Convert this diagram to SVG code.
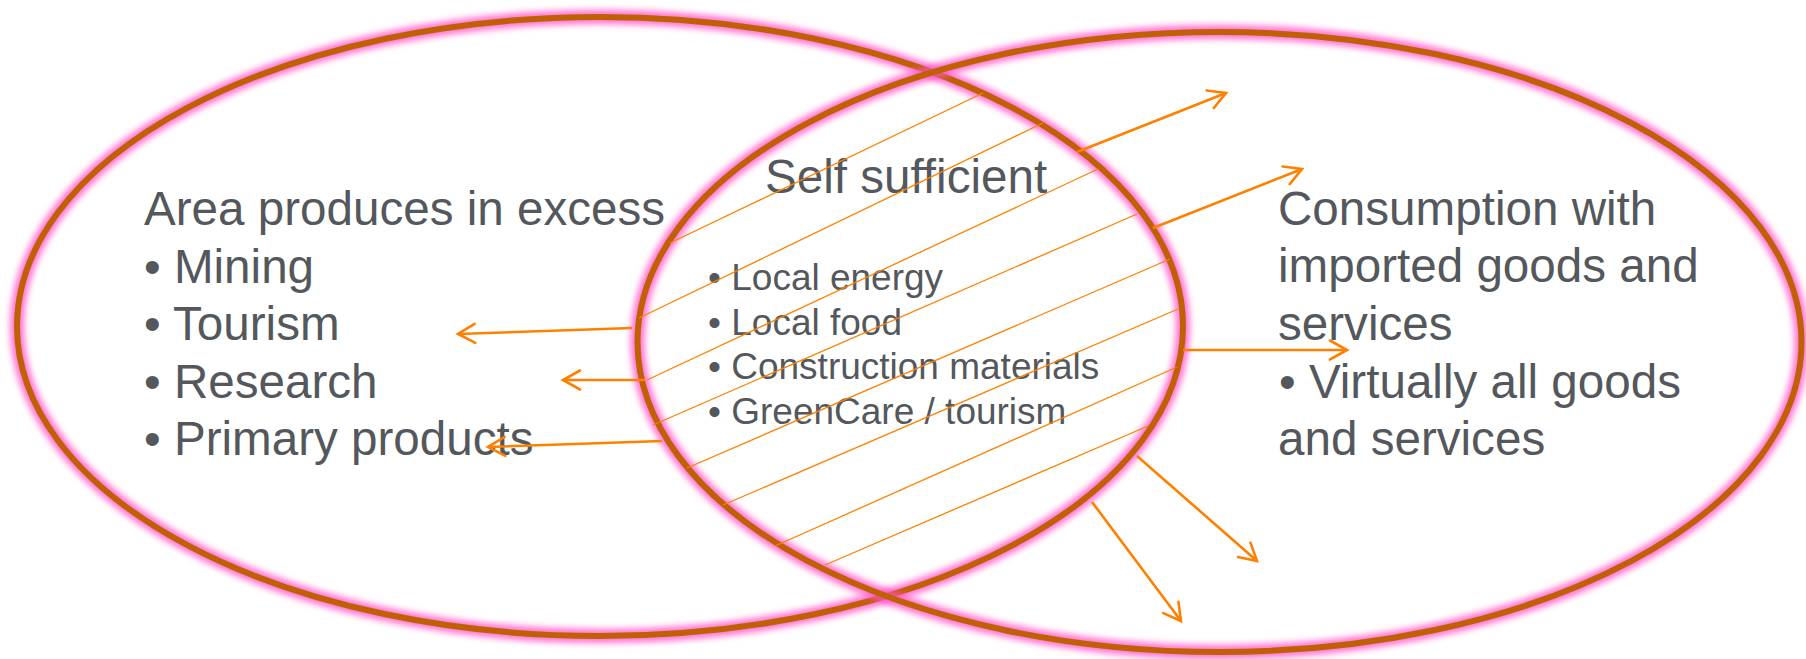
<svg xmlns="http://www.w3.org/2000/svg" width="1806" height="659" viewBox="0 0 1806 659">
<style>
.glow{fill:none;stroke:#ff4fc8;stroke-width:14;opacity:0.8;filter:url(#blur)}
.ring{fill:none;stroke:#c06004;stroke-width:6}
.big{font-family:"Liberation Sans",Arial,sans-serif;font-size:47.6px;fill:#54585c}
.small{font-family:"Liberation Sans",Arial,sans-serif;font-size:37px;fill:#54585c}
.hatch{stroke:#ff8000;stroke-width:1.3;fill:none}
.arrow{stroke:#ff8000;stroke-width:2.6;fill:none;marker-end:url(#ah)}
</style>
<defs>
<filter id="blur" x="-10%" y="-10%" width="120%" height="120%"><feGaussianBlur stdDeviation="3"/></filter>
<marker id="ah" markerUnits="userSpaceOnUse" viewBox="-21 -12 24 24" refX="0" refY="0" markerWidth="24" markerHeight="24" orient="auto">
<path d="M-17,-9.5 L0,0 L-17,9.5" fill="none" stroke="#ff8000" stroke-width="2.6" stroke-linecap="round" stroke-linejoin="miter"/>
</marker>
</defs>
<rect width="1806" height="659" fill="#ffffff"/>
<g id="left-area">
<ellipse class="glow" cx="600" cy="326.5" rx="583" ry="309.5"/>
<ellipse class="ring" cx="600" cy="326.5" rx="583" ry="309.5"/>
</g>
<g id="right-area">
<ellipse class="glow" cx="1219.5" cy="342" rx="582" ry="310"/>
<ellipse class="ring" cx="1219.5" cy="342" rx="582" ry="310"/>
</g>
<g id="left-text">
<text class="big" x="144" y="225">Area produces in excess</text>
<text class="big" x="144" y="283">• Mining</text>
<text class="big" x="144" y="340">• Tourism</text>
<text class="big" x="144" y="398">• Research</text>
<text class="big" x="144" y="455">• Primary products</text>
</g>
<g id="center-text">
<text class="big" x="765" y="193">Self sufficient</text>
<text class="small" x="708" y="290">• Local energy</text>
<text class="small" x="708" y="334.5">• Local food</text>
<text class="small" x="708" y="379">• Construction materials</text>
<text class="small" x="708" y="423.5">• GreenCare / tourism</text>
</g>
<g id="right-text">
<text class="big" x="1278" y="225">Consumption with</text>
<text class="big" x="1278" y="282">imported goods and</text>
<text class="big" x="1278" y="340">services</text>
<text class="big" x="1279" y="398">• Virtually all goods</text>
<text class="big" x="1278" y="455">and services</text>
</g>
<g id="hatching">
<line class="hatch" x1="670" y1="243" x2="983" y2="93"/>
<line class="hatch" x1="639" y1="318" x2="1043" y2="123"/>
<line class="hatch" x1="647" y1="380" x2="1098" y2="169"/>
<line class="hatch" x1="653" y1="425" x2="1137" y2="214"/>
<line class="hatch" x1="687" y1="468" x2="1170" y2="259"/>
<line class="hatch" x1="723" y1="505" x2="1178" y2="309"/>
<line class="hatch" x1="775" y1="546" x2="1177" y2="367"/>
<line class="hatch" x1="825" y1="565" x2="1148" y2="426"/>
</g>
<g id="connectors">
<line class="arrow" x1="632" y1="328" x2="458" y2="334"/>
<line class="arrow" x1="645" y1="380" x2="563" y2="380"/>
<line class="arrow" x1="662" y1="441" x2="488" y2="447"/>
<line class="arrow" x1="1077" y1="152" x2="1226" y2="93"/>
<line class="arrow" x1="1153" y1="228" x2="1302" y2="169"/>
<line class="arrow" x1="1183" y1="350" x2="1347" y2="350"/>
<line class="arrow" x1="1137" y1="456" x2="1257" y2="561"/>
<line class="arrow" x1="1092" y1="502" x2="1181" y2="621"/>
</g>
</svg>
